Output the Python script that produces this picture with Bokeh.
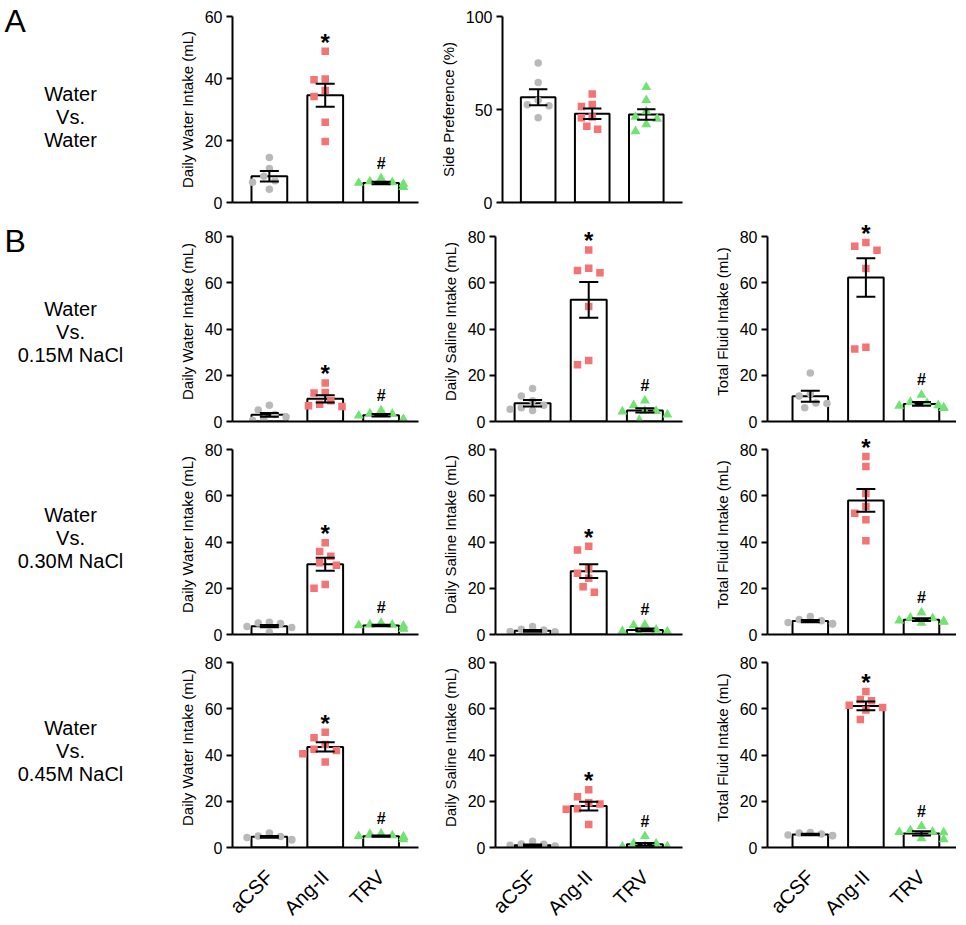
import math
from bokeh.plotting import figure
from bokeh.layouts import row, column
from bokeh.models import Range1d, FixedTicker, Spacer
from bokeh.core.properties import value
from bokeh.embed import file_html
from bokeh.resources import INLINE

FONT = "Liberation Sans"

# ---------------- data ----------------
groups = ["aCSF", "Ang-II", "TRV"]
group_markers = ["circle", "square", "triangle"]
group_colors = ["#b9b9b9", "#f47373", "#72e372"]
row_letters = ["A", "B"]
row_titles = [
    ["Water", "Vs.", "Water"],
    ["Water", "Vs.", "0.15M NaCl"],
    ["Water", "Vs.", "0.30M NaCl"],
    ["Water", "Vs.", "0.45M NaCl"],
]

# A: water vs water
a1_ylabel = "Daily Water Intake (mL)"
a1_ymax, a1_step = 60, 20
a1_acsf = [14.5, 11.0, 8.5, 7.0, 6.5, 4.3]
a1_ang = [48.8, 39.8, 39.6, 36.1, 34.2, 25.9, 19.7]
a1_trv = [7.8, 6.8, 6.5, 6.3, 6.0, 5.0]
a1_mean = [8.5, 34.6, 6.3]
a1_sem = [1.7, 3.7, 0.4]
a1_marks = ["", "*", "#"]

a2_ylabel = "Side Preference (%)"
a2_ymax, a2_step = 100, 50
a2_acsf = [75.0, 64.5, 55.0, 52.5, 52.0, 45.5]
a2_ang = [58.4, 52.7, 51.6, 46.0, 45.6, 41.0, 39.4]
a2_trv = [62.0, 55.0, 49.0, 46.0, 45.0, 42.0, 38.3]
a2_mean = [56.6, 47.7, 47.3]
a2_sem = [4.3, 2.8, 2.8]
a2_marks = ["", "", ""]

# B: water vs 0.15M NaCl
b11_acsf = [7.0, 5.0, 3.0, 2.0, 1.0, 0.5]
b11_ang = [16.7, 12.5, 12.3, 9.0, 7.5, 6.8, 6.5]
b11_trv = [4.8, 3.5, 3.3, 2.5, 1.0, 0.9]
b11_mean = [2.9, 9.8, 2.7]
b11_sem = [0.8, 1.6, 0.5]

b12_acsf = [14.3, 11.0, 9.0, 7.0, 6.0, 5.3, 4.8]
b12_ang = [74.2, 66.3, 65.3, 64.3, 49.7, 26.4, 24.5]
b12_trv = [9.0, 7.0, 4.5, 4.5, 4.3, 3.0, 0.6]
b12_mean = [7.9, 52.6, 4.8]
b12_sem = [1.4, 7.7, 0.9]

b13_acsf = [21.0, 12.0, 11.0, 8.0, 7.8, 6.0]
b13_ang = [77.4, 75.8, 74.1, 66.2, 32.1, 31.4]
b13_trv = [11.5, 8.4, 8.0, 7.0, 6.8, 6.0, 5.8]
b13_mean = [10.9, 62.3, 7.6]
b13_sem = [2.4, 8.3, 0.8]

# B: water vs 0.30M NaCl
b21_acsf = [5.3, 5.0, 4.8, 3.5, 3.0, 1.0]
b21_ang = [39.7, 35.9, 33.8, 31.0, 29.9, 21.6, 20.0]
b21_trv = [5.0, 4.3, 4.2, 4.0, 3.8, 2.5, 2.4]
b21_mean = [3.6, 30.4, 3.9]
b21_sem = [0.5, 2.8, 0.3]

b22_acsf = [3.5, 2.3, 2.0, 1.3, 1.2, 0.5]
b22_ang = [38.2, 36.5, 28.5, 26.5, 24.3, 20.7, 18.3]
b22_trv = [4.2, 4.0, 2.0, 1.5, 1.3, 0.5, 0.3]
b22_mean = [1.6, 27.4, 2.0]
b22_sem = [0.4, 3.0, 0.6]

b23_acsf = [7.8, 6.5, 6.0, 5.2, 4.8, 4.5]
b23_ang = [77.0, 72.6, 61.0, 55.3, 52.4, 49.6, 40.5]
b23_trv = [9.5, 7.2, 7.0, 6.0, 5.7, 5.5, 5.0]
b23_mean = [5.8, 58.0, 6.4]
b23_sem = [0.5, 4.9, 0.6]

# B: water vs 0.45M NaCl
b31_acsf = [6.3, 5.0, 4.8, 4.3, 3.5, 3.2]
b31_ang = [49.8, 47.5, 44.5, 42.5, 42.0, 40.5, 37.0]
b31_trv = [6.0, 5.8, 5.2, 4.9, 4.6, 4.5, 3.5]
b31_mean = [4.6, 43.5, 4.9]
b31_sem = [0.4, 2.0, 0.3]

b32_acsf = [2.7, 1.5, 1.4, 1.0, 0.6, 0.4]
b32_ang = [25.0, 22.0, 19.3, 18.8, 16.8, 16.5, 10.0]
b32_trv = [4.9, 1.8, 1.7, 0.5, 0.4, 0.3, 0.3]
b32_mean = [1.0, 17.9, 1.4]
b32_sem = [0.3, 1.9, 0.6]

b33_acsf = [6.5, 6.3, 5.8, 5.4, 5.2, 5.1]
b33_ang = [67.5, 64.0, 63.5, 61.5, 60.5, 59.5, 55.4]
b33_trv = [9.2, 7.5, 6.8, 6.7, 6.5, 3.9, 3.5]
b33_mean = [5.6, 61.2, 6.1]
b33_sem = [0.3, 1.9, 0.9]

b_ylabels = ["Daily Water Intake (mL)", "Daily Saline Intake (mL)", "Total Fluid Intake (mL)"]
b_ymax, b_step = 80, 20
b_marks = ["", "*", "#"]

# ---------------- layout constants ----------------
LABEL_W = 170
# left border, frame width, right border, x lo, x hi
COLS = [(62, 186, 18, -0.66, 2.67), (59, 187, 14, -0.66, 2.67), (71, 189, 0, -0.77, 2.63)]
# top border, frame height, bottom border, pad above top tick
ROWS = [(16, 186, 12, 0), (7, 200, 13, 15), (0, 200, 13, 15), (0, 200, 10, 15)]
STRIP_H = 64
STRIP_GAP = 16
TITLE_SHIFT = [7, 3, -4, -4]
BAR_W = 0.64
CAP = 0.17


def swarm(vals, ppu_x, ppu_y, dist=9.5):
    order = sorted(range(len(vals)), key=lambda i: -vals[i])
    cands = [0, -0.1, 0.1, -0.2, 0.2, -0.3, 0.3, -0.4, 0.4]
    placed, offs = [], [0.0] * len(vals)
    for i in order:
        chosen = cands[-1]
        for c in cands:
            if all(((c - o) * ppu_x) ** 2 + ((vals[i] - v) * ppu_y) ** 2 >= dist ** 2 for o, v in placed):
                chosen = c
                break
        offs[i] = chosen
        placed.append((chosen, vals[i]))
    return offs


def make_panel(ylabel, ymax, step, pts, means, sems, marks, col, rw):
    lb, fw, rb, xlo, xhi = col
    tb, fh, bb, pad = rw
    axis_px = fh - pad
    y_end = ymax * fh / axis_px
    p = figure(width=lb + fw + rb, height=tb + fh + bb,
               x_range=Range1d(xlo, xhi), y_range=Range1d(0, y_end),
               output_backend="svg", toolbar_location=None, title=None,
               min_border_left=lb, min_border_right=rb,
               min_border_top=tb, min_border_bottom=bb)
    p.outline_line_color = None
    p.grid.visible = False
    p.background_fill_color = "white"

    xs = [0, 1, 2]
    p.vbar(x=xs, top=means, width=BAR_W, fill_color="white",
           line_color="black", line_width=2)

    ppu_x = fw / (xhi - xlo)
    ppu_y = axis_px / ymax
    for gi, vals in enumerate(pts):
        offs = swarm(vals, ppu_x, ppu_y)
        size = 10 if group_markers[gi] == "triangle" else 7.5
        p.scatter(x=[gi + o for o in offs], y=vals, marker=group_markers[gi],
                  size=size, fill_color=group_colors[gi], line_color=None)

    lo = [m - s for m, s in zip(means, sems)]
    hi = [m + s for m, s in zip(means, sems)]
    p.segment(x0=xs, y0=lo, x1=xs, y1=hi, line_color="black", line_width=2)
    p.segment(x0=[x - CAP for x in xs], y0=hi, x1=[x + CAP for x in xs], y1=hi,
              line_color="black", line_width=2)
    p.segment(x0=[x - CAP for x in xs], y0=lo, x1=[x + CAP for x in xs], y1=lo,
              line_color="black", line_width=2)

    for gi, mk in enumerate(marks):
        if not mk:
            continue
        top = max(max(pts[gi]), hi[gi])
        if mk == "*":
            p.text(x=[gi], y=[top], text=[mk], text_font=value(FONT),
                   text_font_size="24px", text_font_style="bold", text_color="black",
                   text_align="center", text_baseline="middle", y_offset=-9)
        else:
            p.text(x=[gi], y=[top], text=[mk], text_font=value(FONT),
                   text_font_size="16px", text_font_style="bold", text_color="black",
                   text_align="center", text_baseline="middle", y_offset=-15)

    xa = p.xaxis[0]
    xa.axis_line_width = 2
    xa.major_tick_line_color = None
    xa.minor_tick_line_color = None
    xa.major_tick_out = 0
    xa.major_tick_in = 0
    xa.ticker = FixedTicker(ticks=[])
    xa.major_label_standoff = 0

    ya = p.yaxis[0]
    ya.ticker = FixedTicker(ticks=list(range(0, ymax + 1, step)))
    ya.bounds = (0, ymax)
    ya.axis_line_width = 2
    ya.major_tick_line_width = 2
    ya.major_tick_out = 6
    ya.major_tick_in = 0
    ya.minor_tick_line_color = None
    ya.major_label_text_font = FONT
    ya.major_label_text_font_size = "16px"
    ya.major_label_text_color = "black"
    ya.major_label_standoff = 4
    ya.axis_label = ylabel
    ya.axis_label_text_font = FONT
    ya.axis_label_text_font_size = "15px"
    ya.axis_label_text_font_style = "normal"
    ya.axis_label_text_color = "black"
    ya.axis_label_standoff = 6
    return p


def make_strip(col):
    # category labels under the bottom row, on the same x scale as the panel above
    lb, fw, rb, xlo, xhi = col
    ppu = fw / (xhi - xlo)
    s = figure(width=lb + fw + rb, height=STRIP_H,
               x_range=Range1d(xlo - lb / ppu, xhi + rb / ppu),
               y_range=Range1d(-STRIP_H, 0), output_backend="svg",
               toolbar_location=None, title=None, x_axis_type=None, y_axis_type=None,
               min_border_left=0, min_border_right=0, min_border_top=0, min_border_bottom=0)
    s.outline_line_color = None
    s.grid.visible = False
    s.text(x=list(range(len(groups))), y=[-STRIP_GAP] * len(groups), text=groups,
           angle=45, angle_units="deg", text_align="right", text_baseline="middle",
           text_font=value(FONT), text_font_size="20px", text_color="black")
    return s


panel_rows = [
    [(a1_ylabel, a1_ymax, a1_step, [a1_acsf, a1_ang, a1_trv], a1_mean, a1_sem, a1_marks),
     (a2_ylabel, a2_ymax, a2_step, [a2_acsf, a2_ang, a2_trv], a2_mean, a2_sem, a2_marks)],
    [(b_ylabels[0], b_ymax, b_step, [b11_acsf, b11_ang, b11_trv], b11_mean, b11_sem, b_marks),
     (b_ylabels[1], b_ymax, b_step, [b12_acsf, b12_ang, b12_trv], b12_mean, b12_sem, b_marks),
     (b_ylabels[2], b_ymax, b_step, [b13_acsf, b13_ang, b13_trv], b13_mean, b13_sem, b_marks)],
    [(b_ylabels[0], b_ymax, b_step, [b21_acsf, b21_ang, b21_trv], b21_mean, b21_sem, b_marks),
     (b_ylabels[1], b_ymax, b_step, [b22_acsf, b22_ang, b22_trv], b22_mean, b22_sem, b_marks),
     (b_ylabels[2], b_ymax, b_step, [b23_acsf, b23_ang, b23_trv], b23_mean, b23_sem, b_marks)],
    [(b_ylabels[0], b_ymax, b_step, [b31_acsf, b31_ang, b31_trv], b31_mean, b31_sem, b_marks),
     (b_ylabels[1], b_ymax, b_step, [b32_acsf, b32_ang, b32_trv], b32_mean, b32_sem, b_marks),
     (b_ylabels[2], b_ymax, b_step, [b33_acsf, b33_ang, b33_trv], b33_mean, b33_sem, b_marks)],
]

row_layouts = []
for ri, specs in enumerate(panel_rows):
    rw = ROWS[ri]
    figs = []
    for ci, spec in enumerate(specs):
        figs.append(make_panel(*spec, COLS[ci], rw))
    h = rw[0] + rw[1] + rw[2]
    for ci in range(len(specs), 3):
        c = COLS[ci]
        figs.append(Spacer(width=c[0] + c[1] + c[2], height=h))
    row_layouts.append(row(*figs))
row_layouts.append(row(*[make_strip(c) for c in COLS]))

# label column
total_h = sum(r[0] + r[1] + r[2] for r in ROWS) + STRIP_H
lab = figure(width=LABEL_W, height=total_h, x_range=Range1d(0, LABEL_W),
             y_range=Range1d(total_h, 0), output_backend="svg",
             toolbar_location=None, title=None, x_axis_type=None, y_axis_type=None,
             min_border_left=0, min_border_right=0, min_border_top=0, min_border_bottom=0)
lab.outline_line_color = None
lab.grid.visible = False

tx, ty, tt = [], [], []
letter_y = []
y0 = 0
for ri, rw in enumerate(ROWS):
    tb, fh, bb, pad = rw
    axis_top = y0 + tb + pad
    center = axis_top + (fh - pad) / 2 + TITLE_SHIFT[ri]
    for li, line in enumerate(row_titles[ri]):
        tx.append(70)
        ty.append(center + (li - 1) * 23)
        tt.append(line)
    if ri < len(row_letters):
        letter_y.append(axis_top + 4)
    y0 += tb + fh + bb

lab.text(x=tx, y=ty, text=tt, text_font=value(FONT), text_font_size="20px",
         text_align="center", text_baseline="middle", text_color="black")
lab.text(x=[4] * len(row_letters), y=letter_y, text=row_letters, text_font=value(FONT),
         text_font_size="32px", text_align="left", text_baseline="middle",
         text_color="black")

layout = row(lab, column(*row_layouts))

open("out.html", "w").write(file_html(layout, INLINE))
